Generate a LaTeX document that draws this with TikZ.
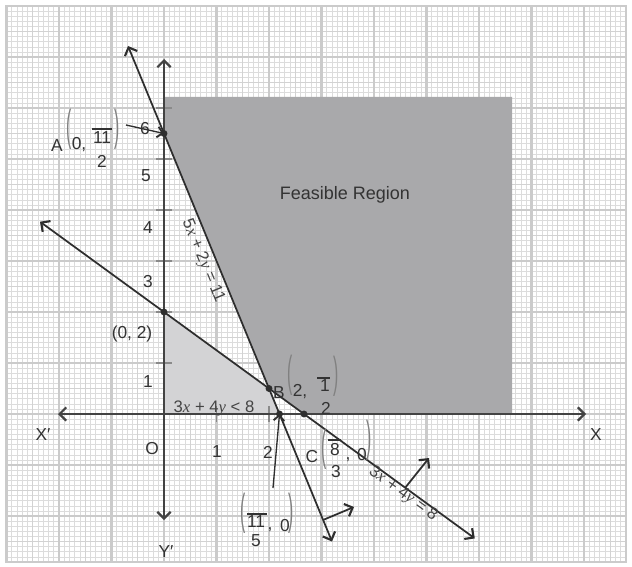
\documentclass[tikz,border=0pt]{standalone}
\usepackage{graphicx}
\usepackage{fontspec}
\setmainfont{Liberation Sans}
\newfontfamily\serifit{Liberation Serif}
\usetikzlibrary{arrows.meta}
\definecolor{ink}{HTML}{2E2E2E}
\definecolor{txt}{HTML}{333333}
\definecolor{eqc}{HTML}{444444}
\definecolor{darkfill}{HTML}{A9A9AB}
\definecolor{lightfill}{HTML}{D3D3D5}
\definecolor{gridminor}{HTML}{DCDCDC}
\definecolor{gridmid}{HTML}{D2D2D2}
\definecolor{gridmajor}{HTML}{CBCBCB}
\definecolor{paren}{HTML}{808080}
\definecolor{tickc}{HTML}{8A8A8A}
\newcommand{\vx}{{\serifit\itshape x}}
\newcommand{\vy}{{\serifit\itshape y}}
\newcommand{\lpar}{\scalebox{0.9}[2.5]{(}}
\newcommand{\rpar}{\scalebox{0.9}[2.5]{)}}
\begin{document}
\begin{tikzpicture}[x=0.75pt,y=-0.75pt,
  lbl/.style={inner sep=0pt, font=\fontsize{13}{15}\selectfont, text=txt},
  eqn/.style={inner sep=0pt, font=\fontsize{12.5}{14}\selectfont, text=eqc},
  par/.style={inner sep=0pt, font=\fontsize{13}{15}\selectfont, text=paren},
  ln/.style={draw=ink, line width=1.3pt},
  axis/.style={draw=ink!90, line width=1.5pt},
  bigarr/.style={>={Straight Barb[length=5pt,width=10pt,line width=1.6pt]}},
  smallarr/.style={draw=ink, line width=1pt, >={Straight Barb[length=4pt,width=8pt,line width=1.4pt]}},
  fracbar/.style={draw=txt, line width=0.8pt},
  tickmark/.style={draw=tickc, line width=0.8pt},
  dot/.style={fill=ink}]
\useasboundingbox (0,0) rectangle (632,567);
\fill[white] (0,0) rectangle (632,567);
% grid
\begin{scope}
\clip (6,6) rectangle (626,562);
\foreach \i in {-31,...,89} \draw[gridminor, line width=0.4pt] ({164+5.25*\i},0) -- ({164+5.25*\i},567);
\foreach \j in {-30,...,81} \draw[gridminor, line width=0.4pt] (0,{414-5.1*\j}) -- (632,{414-5.1*\j});
\foreach \i in {-7,...,18} \draw[gridmid, line width=0.6pt] ({164+26.25*\i},0) -- ({164+26.25*\i},567);
\foreach \j in {-6,...,16} \draw[gridmid, line width=0.6pt] (0,{414-25.5*\j}) -- (632,{414-25.5*\j});
\foreach \i in {-3,...,9} \draw[gridmajor, line width=1.6pt] ({164+52.5*\i},0) -- ({164+52.5*\i},567);
\foreach \j in {-3,...,8} \draw[gridmajor, line width=1.6pt] (0,{414-51*\j}) -- (632,{414-51*\j});
\end{scope}
\draw[gridmajor, line width=0.8pt] (6,6) rectangle (626,562);
% key points
\coordinate (O) at (164,414);
\coordinate (A) at (164,133.5);
\coordinate (P) at (164,312);
\coordinate (B) at (269,388.5);
\coordinate (D) at (279.5,414);
\coordinate (C) at (304,414);
\coordinate (Ltop) at (128,46);
\coordinate (Lbot) at (332,541.5);
\coordinate (Mtop) at (40,221.7);
\coordinate (Mbot) at (474.8,538.4);
\coordinate (Ftl) at (164,97);
\coordinate (Ftr) at (512,97);
\coordinate (Fbr) at (512,414);
\coordinate (Yt) at (164,59);
\coordinate (Yb) at (164,520);
\coordinate (Xl) at (58,414);
\coordinate (Xr) at (586,414);
\coordinate (N1s) at (323,520);
\coordinate (N1e) at (354,507);
\coordinate (N2s) at (405,488);
\coordinate (N2e) at (429,458);
\coordinate (AA) at (126,125);
\coordinate (DA) at (273,488);
% regions
\fill[darkfill] (A) -- (Ftl) -- (Ftr) -- (Fbr) -- (C) -- (B) -- cycle;
\fill[lightfill] (O) -- (P) -- (B) -- (D) -- cycle;
% ticks
\foreach \k in {1,...,6} \draw[tickmark] (156,{414-51*\k}) -- (172,{414-51*\k});
\foreach \k in {1,2} \draw[tickmark] ({164+52.5*\k},406) -- ({164+52.5*\k},422);
% axes
\draw[axis, bigarr, <->] (Xl) -- (Xr);
\draw[axis, bigarr, <->] (Yb) -- (Yt);
% lines
\draw[ln, bigarr, <->] (Ltop) -- (Lbot);
\draw[ln, bigarr, <->] (Mtop) -- (Mbot);
\draw[ln, bigarr, ->] (N1s) -- (N1e);
\draw[ln, bigarr, ->] (N2s) -- (N2e);
\draw[smallarr, ->] (AA) -- (A);
\draw[smallarr, ->] (DA) -- (D);
% dots
\foreach \p in {A,P,B,D,C} \fill[dot] (\p) circle (2.6pt);
% axis labels
\node[lbl] (xlab) at (596,435) {X};
\node[lbl] (xplab) at (43,435) {X′};
\node[lbl] (yplab) at (166,552) {Y′};
\node[lbl] (olab) at (152,449) {O};
\node[lbl] (t6) at (145,129) {6};
\node[lbl] (t5) at (146,176) {5};
\node[lbl] (t4) at (148,228) {4};
\node[lbl] (t3) at (148,282) {3};
\node[lbl] (t1) at (148,382) {1};
\node[lbl] (x1) at (217,452) {1};
\node[lbl] (x2) at (268,452) {2};
\node[lbl] (p02) at (132,334) {(0, 2)};
\node[lbl, font=\fontsize{13.5}{15}\selectfont] (feas) at (345,195) {Feasible Region};
% equations
\node[eqn] (ineq) at (214,408) {3\vx{} + 4\vy{} < 8};
\node[eqn, rotate=-67.6] (eq1) at (203,261) {5\vx{} + 2\vy{} = 11};
\node[eqn, rotate=-36.1] (eq2) at (403,494) {3\vx{} + 4\vy{} = 8};
% A label
\node[lbl] (lA) at (57,146) {A};
\node[par] (lAp1) at (69,129) {\lpar};
\node[lbl] (lA0) at (79,145) {0,};
\node[lbl] (lAn) at (102,138) {11};
\node[lbl] (lAd) at (102,161) {2};
\node[par] (lAp2) at (117,129) {\rpar};
\coordinate (lAb1) at (92,129);
\coordinate (lAb2) at (112,129);
\draw[fracbar] (lAb1) -- (lAb2);
% B label
\node[lbl] (lB) at (279,393) {B};
\node[par] (lBp1) at (290,375) {\lpar};
\node[lbl] (lB2) at (300,392) {2,};
\node[lbl] (lBn) at (325,386) {1};
\node[lbl] (lBd) at (326,408) {2};
\node[par] (lBp2) at (336,376) {\rpar};
\coordinate (lBb1) at (317,378);
\coordinate (lBb2) at (330,378);
\draw[fracbar] (lBb1) -- (lBb2);
% C label
\node[lbl] (lC) at (312,457) {C};
\node[par] (lCp1) at (324,449) {\lpar};
\node[lbl] (lCn) at (335,450) {8};
\node[lbl] (lCd) at (336,472) {3};
\node[lbl] (lCc) at (348,460) {,};
\node[lbl] (lC0) at (362,455) {0};
\node[par] (lCp2) at (369,440) {\rpar};
\coordinate (lCb1) at (328,440);
\coordinate (lCb2) at (341,440);
\draw[fracbar] (lCb1) -- (lCb2);
% (11/5, 0) label
\node[par] (lDp1) at (243,513) {\lpar};
\node[lbl] (lDn) at (256,522) {11};
\node[lbl] (lDd) at (256,541) {5};
\node[lbl] (lDc) at (270,530) {,};
\node[lbl] (lD0) at (285,526) {0};
\node[par] (lDp2) at (291,513) {\rpar};
\coordinate (lDb1) at (247,514);
\coordinate (lDb2) at (267,514);
\draw[fracbar] (lDb1) -- (lDb2);
\end{tikzpicture}
\end{document}
